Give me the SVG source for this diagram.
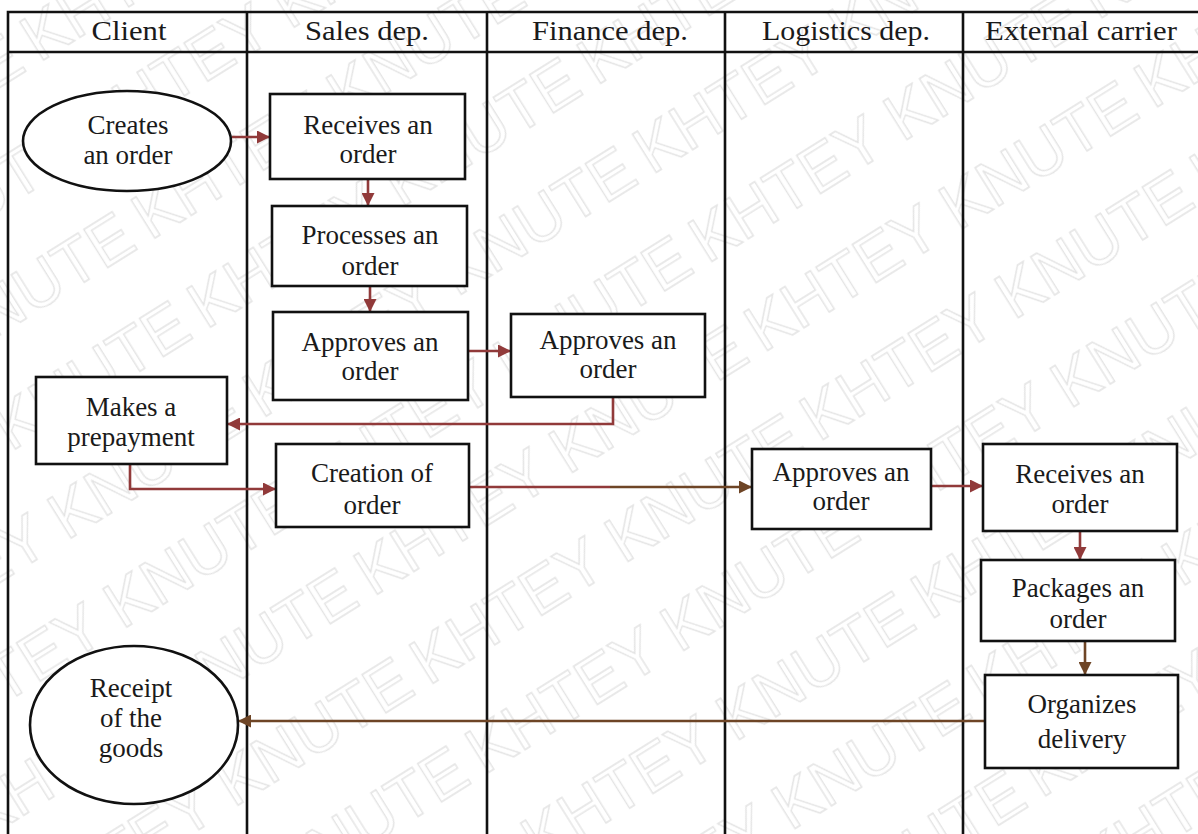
<svg xmlns="http://www.w3.org/2000/svg" width="1198" height="834" viewBox="0 0 1198 834">
  <style>
    .lane { fill: none; stroke: #111; stroke-width: 2.6; }
    .box { fill: #fff; stroke: #111; stroke-width: 2.6; }
    .hdr { font-family: "Liberation Serif", "Times New Roman", "DejaVu Serif", serif; font-size: 28px; fill: #1a1a1a; text-anchor: middle; }
    .lbl { font-family: "Liberation Serif", "Times New Roman", "DejaVu Serif", serif; font-size: 27px; fill: #1a1a1a; text-anchor: middle; }
    .red { fill: none; stroke: #913a3a; stroke-width: 2.6; }
    .brown { fill: none; stroke: #6e4526; stroke-width: 2.6; }
    .wm { font-family: "Liberation Sans", Arial, sans-serif; font-size: 64px; fill: none; stroke: #e3e3e3; stroke-width: 1.3; }
  </style>
  <defs>
    <marker id="ahRed" viewBox="0 0 10 10" refX="10" refY="5" markerWidth="5" markerHeight="5" markerUnits="strokeWidth" orient="auto">
      <path d="M0,0 L10,5 L0,10 z" fill="#913a3a"/>
    </marker>
    <marker id="ahBrown" viewBox="0 0 10 10" refX="10" refY="5" markerWidth="5" markerHeight="5" markerUnits="strokeWidth" orient="auto">
      <path d="M0,0 L10,5 L0,10 z" fill="#6e4526"/>
    </marker>
    <pattern id="wmark" patternUnits="userSpaceOnUse" width="460" height="105" patternTransform="rotate(-32)">
      <text class="wm" x="0" y="74">KHTEY KNUTE</text>
    </pattern>
  </defs>

  <rect width="1198" height="834" fill="#fff"/>
  <rect width="1198" height="834" fill="url(#wmark)"/>

  <!-- swimlane frame -->
  <g id="lanes">
    <path class="lane" d="M8,834 V12 H1200 M8,52 H1200 M247,12 V834 M487,12 V834 M725,12 V834 M963,12 V834"/>
    <text class="hdr" x="129" y="40" textLength="75" lengthAdjust="spacingAndGlyphs">Client</text>
    <text class="hdr" x="367" y="40" textLength="124" lengthAdjust="spacingAndGlyphs">Sales dep.</text>
    <text class="hdr" x="610" y="40" textLength="156" lengthAdjust="spacingAndGlyphs">Finance dep.</text>
    <text class="hdr" x="846" y="40" textLength="168" lengthAdjust="spacingAndGlyphs">Logistics dep.</text>
    <text class="hdr" x="1081" y="40" textLength="192" lengthAdjust="spacingAndGlyphs">External carrier</text>
  </g>

  <!-- connectors -->
  <g id="connectors">
    <path class="red" d="M232,137 H270" marker-end="url(#ahRed)"/>
    <path class="red" d="M368,179 V206" marker-end="url(#ahRed)"/>
    <path class="red" d="M370,286 V312" marker-end="url(#ahRed)"/>
    <path class="red" d="M468,351 H511" marker-end="url(#ahRed)"/>
    <path class="red" d="M613,397 V424 H227" marker-end="url(#ahRed)"/>
    <path class="red" d="M130,464 V489 H276" marker-end="url(#ahRed)"/>
    <path class="red" d="M469,487 H610" />
    <path class="brown" d="M610,487 H752" marker-end="url(#ahBrown)"/>
    <path class="red" d="M931,486 H983" marker-end="url(#ahRed)"/>
    <path class="red" d="M1080,531 V560" marker-end="url(#ahRed)"/>
    <path class="brown" d="M1085,641 V675" marker-end="url(#ahBrown)"/>
    <path class="brown" d="M985,721 H238" marker-end="url(#ahBrown)"/>
  </g>

  <g id="n-creates">
    <ellipse class="box" cx="127" cy="141" rx="104" ry="50"/>
    <text class="lbl" x="128" y="134">Creates</text>
    <text class="lbl" x="128" y="164">an order</text>
  </g>
  <g id="n-sales-receives">
    <rect class="box" x="270" y="94" width="195" height="85"/>
    <text class="lbl" x="368" y="134">Receives an</text>
    <text class="lbl" x="368" y="163">order</text>
  </g>
  <g id="n-sales-processes">
    <rect class="box" x="272" y="206" width="195" height="80"/>
    <text class="lbl" x="370" y="244">Processes an</text>
    <text class="lbl" x="370" y="275">order</text>
  </g>
  <g id="n-sales-approves">
    <rect class="box" x="273" y="312" width="195" height="88"/>
    <text class="lbl" x="370" y="351">Approves an</text>
    <text class="lbl" x="370" y="380">order</text>
  </g>
  <g id="n-finance-approves">
    <rect class="box" x="511" y="314" width="194" height="83"/>
    <text class="lbl" x="608" y="349">Approves an</text>
    <text class="lbl" x="608" y="378">order</text>
  </g>
  <g id="n-prepayment">
    <rect class="box" x="36" y="377" width="191" height="87"/>
    <text class="lbl" x="131" y="416">Makes a</text>
    <text class="lbl" x="131" y="446">prepayment</text>
  </g>
  <g id="n-creation">
    <rect class="box" x="276" y="444" width="193" height="83"/>
    <text class="lbl" x="372" y="482">Creation of</text>
    <text class="lbl" x="372" y="514">order</text>
  </g>
  <g id="n-logistics-approves">
    <rect class="box" x="752" y="449" width="179" height="80"/>
    <text class="lbl" x="841" y="481">Approves an</text>
    <text class="lbl" x="841" y="510">order</text>
  </g>
  <g id="n-carrier-receives">
    <rect class="box" x="983" y="444" width="194" height="87"/>
    <text class="lbl" x="1080" y="483">Receives an</text>
    <text class="lbl" x="1080" y="513">order</text>
  </g>
  <g id="n-carrier-packages">
    <rect class="box" x="981" y="560" width="194" height="81"/>
    <text class="lbl" x="1078" y="597">Packages an</text>
    <text class="lbl" x="1078" y="628">order</text>
  </g>
  <g id="n-carrier-delivery">
    <rect class="box" x="985" y="675" width="193" height="93"/>
    <text class="lbl" x="1082" y="713">Organizes</text>
    <text class="lbl" x="1082" y="748">delivery</text>
  </g>
  <g id="n-receipt">
    <ellipse class="box" cx="134" cy="725" rx="104" ry="79"/>
    <text class="lbl" x="131" y="697">Receipt</text>
    <text class="lbl" x="131" y="727">of the</text>
    <text class="lbl" x="131" y="757">goods</text>
  </g>
</svg>
